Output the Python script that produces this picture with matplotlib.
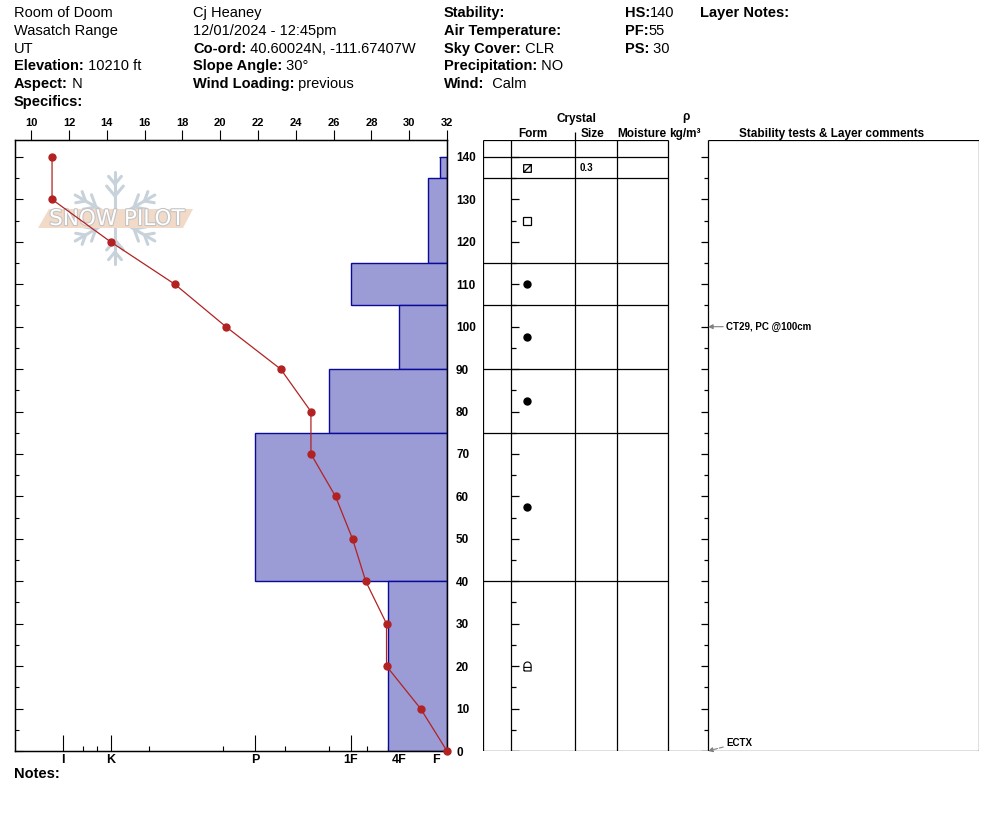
import matplotlib
matplotlib.use('Agg')
import matplotlib.pyplot as plt
import matplotlib.patheffects as pe
from matplotlib.path import Path
from matplotlib.patches import Polygon
from matplotlib.lines import Line2D
import numpy as np

plt.rcParams['font.family'] = ['Liberation Sans', 'DejaVu Sans']

W, H = 994, 840

# ---- header text ----
col1 = [("Room of Doom", None), ("Wasatch Range", None), ("UT", None),
        ("Elevation:", " 10210 ft"), ("Aspect:", " N"), ("Specifics:", "")]
col2 = [("Cj Heaney", None), ("12/01/2024 - 12:45pm", None),
        ("Co-ord:", " 40.60024N, -111.67407W"), ("Slope Angle:", " 30°"),
        ("Wind Loading:", " previous")]
col3 = [("Stability:", ""), ("Air Temperature:", ""), ("Sky Cover:", " CLR"),
        ("Precipitation:", " NO"), ("Wind:", "  Calm")]
col4 = [("HS:", "140"), ("PF:", "55"), ("PS:", " 30")]
col5 = [("Layer Notes:", "")]

# ---- temperature profile (deg) ----
temp_depth = [140, 130, 120, 110, 100, 90, 80, 70, 60, 50, 40, 30, 20, 10, 0]
temp_vals = [11.1, 11.1, 14.2, 17.6, 20.3, 23.2, 24.8, 24.8, 26.1, 27.0, 27.7,
             28.8, 28.8, 30.6, 32.0]

# ---- layers ----
layer_top = [140, 135, 115, 105, 90, 75, 40]
layer_bottom = [135, 115, 105, 90, 75, 40, 0]
layer_hardness = ['F-', 'F+', '1F', '4F', '1F+', 'P', '4F+']
layer_form = ['mixed', 'facet', 'round', 'round', 'round', 'round', 'hoar']
layer_size = ['0.3', '', '', '', '', '', '']

# hand hardness scale
hard_names = ['F-', 'F', 'F+', '4F-', '4F', '4F+', '1F-', '1F', '1F+',
              'P-', 'P', 'P+', 'K-', 'K', 'K+', 'I-', 'I']
hard_pos = [7, 11, 19, 35, 48, 59, 80, 96, 118, 162, 192, 224, 298, 336, 350, 364, 384]
hard_major = ['F', '4F', '1F', 'P', 'K', 'I']

# stability tests
test_depth = [100, 0]
test_text = ['CT29, PC @100cm', 'ECTX']

hard = dict(zip(hard_names, hard_pos))

fig = plt.figure(figsize=(W / 100, H / 100), dpi=100)
renderer = fig.canvas.get_renderer()


def fx(x):
    return x / W


def fy(y):
    return 1 - y / H


def header_col(x, rows, size=10.5):
    for i, (lab, val) in enumerate(rows):
        y = 17 + 17.8 * i
        if val is None:
            fig.text(fx(x), fy(y), lab, fontsize=size, va='baseline')
            continue
        t = fig.text(fx(x), fy(y), lab, fontsize=size, fontweight='bold', va='baseline')
        if val:
            bb = t.get_window_extent(renderer)
            fig.text(bb.x1 / W, fy(y), val, fontsize=size, va='baseline')


header_col(14, col1)
header_col(193, col2)
header_col(444, col3)
header_col(625, col4)
header_col(700, col5)
fig.text(fx(14), fy(778), "Notes:", fontsize=10.5, fontweight='bold', va='baseline')

# ---- main profile axes ----
ax = fig.add_axes([fx(15), fy(751), 432 / W, 611 / H])
ax.set_xlim(432, 0)
ax.set_ylim(0, 144)

# logo watermark: snowflake drawn with strokes, band and lettering
cx, cy, r = 115, 218, 46
flake = dict(color='#c8d2da', lw=2.2, solid_capstyle='round',
             transform=fig.transFigure, zorder=0.3)
for ang in np.deg2rad([90, 30, -30, -90, -150, 150]):
    ux, uy = np.cos(ang), np.sin(ang)
    ax.add_line(Line2D([fx(cx), fx(cx + r * ux)], [fy(cy), fy(cy - r * uy)], **flake))
    for dist, blen in [(22, 13), (34, 10)]:
        bx, by = cx + dist * ux, cy - dist * uy
        for side in (-1, 1):
            ba = ang + side * np.deg2rad(40)
            ax.add_line(Line2D([fx(bx), fx(bx + blen * np.cos(ba))],
                               [fy(by), fy(by - blen * np.sin(ba))], **flake))
band = Polygon([(fx(38), fy(228)), (fx(49), fy(209)), (fx(193), fy(209)), (fx(183), fy(228))],
               closed=True, transform=fig.transFigure, facecolor='#f2dac8',
               edgecolor='none', zorder=0.4)
ax.add_patch(band)
ax.text(fx(117), fy(219), 'SNOW PILOT', transform=fig.transFigure, fontsize=15.5,
        family='DejaVu Sans', color='white', ha='center', va='center', zorder=0.5,
        path_effects=[pe.withStroke(linewidth=1.6, foreground='#c4c4c4')])

mids = [(t + b) / 2 for t, b in zip(layer_top, layer_bottom)]
heights = [t - b for t, b in zip(layer_top, layer_bottom)]
widths = [hard[h] for h in layer_hardness]
ax.barh(mids, widths, height=heights, left=0, color='#9b9bd5',
        edgecolor='#0a0a9a', linewidth=1.0, zorder=2)

major_pos = [hard[n] for n in hard_major]
minor_pos = [p for n, p in zip(hard_names, hard_pos) if n not in hard_major]
ax.set_xticks(major_pos)
ax.set_xticklabels(hard_major)
ax.set_xticks(minor_pos, minor=True)
ax.xaxis.set_ticks_position('both')
ax.tick_params(axis='x', which='major', direction='in', length=11.5, width=0.8,
               labelsize=9, pad=2.5, top=True, bottom=True)
ax.tick_params(axis='x', which='minor', direction='in', length=3.6, width=0.8,
               top=True, bottom=True)
for lab in ax.get_xticklabels():
    lab.set_fontweight('bold')

ax.set_yticks(range(0, 141, 10))
ax.set_yticks(range(5, 141, 10), minor=True)
ax.yaxis.set_ticks_position('both')
ax.tick_params(axis='y', which='major', direction='in', length=5.5, width=0.8,
               labelleft=False, labelright=True, labelsize=8.5, pad=6.5)
ax.tick_params(axis='y', which='minor', direction='in', length=2.6, width=0.8)
for lab in ax.get_yticklabels():
    lab.set_fontweight('bold')
for s in ax.spines.values():
    s.set_linewidth(1.0)

# temperature axis on top
axt = ax.twiny()
axt.set_xlim(9.14, 32)
axt.set_xticks(range(10, 33, 2))
axt.tick_params(axis='x', direction='out', length=7, width=0.8, labelsize=8, pad=1.5)
for lab in axt.get_xticklabels():
    lab.set_fontweight('bold')
axt.plot(temp_vals, temp_depth, color='#b22222', lw=0.9, marker='o', ms=5,
         clip_on=False, zorder=5)

# ---- layer table ----
axr = fig.add_axes([fx(483), fy(751), 496 / W, 611 / H])
axr.set_xlim(0, 496)
axr.set_ylim(0, 144)
axr.axis('off')
x_form, x_size, x_moist, x_dens, x_stab, x_end = 28, 92, 134, 185, 225, 496
lw = 0.9
for xv in [0, x_form, x_size, x_moist, x_dens, x_stab, x_end]:
    axr.vlines(xv, 0, 144, color='black', lw=lw)
axr.hlines(144, 0, x_dens, color='black', lw=lw)
axr.hlines(144, x_stab, x_end, color='black', lw=lw)
axr.hlines(0, 0, x_end, color='black', lw=lw)
axr.hlines(layer_top, 0, x_dens, color='black', lw=lw)
for d in range(0, 141, 5):
    big = d % 10 == 0
    axr.hlines(d, x_form, x_form + (8 if big else 5), color='black', lw=lw)
    axr.hlines(d, x_stab - (7 if big else 4), x_stab, color='black', lw=lw)

# grain form symbols
arc = np.linspace(np.pi, 0, 12)
hoar_verts = ([(-0.8, -1), (-0.8, 0.2)] + [(0.8 * np.cos(a), 0.2 + 0.8 * np.sin(a)) for a in arc] +
              [(0.8, -1), (-0.8, -1), (-0.8, -0.2), (0.8, -0.2)])
hoar_codes = ([Path.MOVETO] + [Path.LINETO] * (len(hoar_verts) - 4) +
              [Path.LINETO, Path.MOVETO, Path.LINETO])
hoar_marker = Path(hoar_verts, hoar_codes)
mixed_marker = Path([(-1, -1), (1, -1), (1, 1), (-1, 1), (-1, -1), (-1, -1), (1, 1)],
                    [Path.MOVETO, Path.LINETO, Path.LINETO, Path.LINETO, Path.LINETO,
                     Path.MOVETO, Path.LINETO])
sym_x = 44
for m, form, size in zip(mids, layer_form, layer_size):
    if form == 'round':
        axr.plot(sym_x, m, 'o', color='black', ms=5)
    elif form == 'facet':
        axr.plot(sym_x, m, 's', mfc='none', mec='black', mew=0.9, ms=5.5)
    elif form == 'mixed':
        axr.plot(sym_x, m, marker=mixed_marker, mfc='none', mec='black', mew=0.9, ms=5.5)
    elif form == 'hoar':
        axr.plot(sym_x, m, marker=hoar_marker, mfc='none', mec='black', mew=0.8, ms=6.5)
    if size:
        axr.text(x_size + 5, m, size, fontsize=7, fontweight='bold', va='center')

# stability tests
for d, txt in zip(test_depth, test_text):
    if d > 0:
        axr.annotate(txt, xy=(x_stab, d), xytext=(x_stab + 18, d), fontsize=7,
                     fontweight='bold', va='center',
                     arrowprops=dict(arrowstyle='-|>', color='#808080', lw=0.8,
                                     mutation_scale=7, shrinkA=0, shrinkB=0))
    else:
        axr.annotate(txt, xy=(x_stab, d), xytext=(x_stab + 18, d + 1.9), fontsize=7,
                     fontweight='bold', va='center',
                     arrowprops=dict(arrowstyle='-|>', color='#808080', lw=0.8, ls='--',
                                     mutation_scale=7, shrinkA=0, shrinkB=0))

# table headers
hdr = dict(fontsize=8.5, fontweight='bold', ha='center', va='baseline')
fig.text(fx(576.5), fy(122), 'Crystal', **hdr)
fig.text(fx(532.5), fy(137), 'Form', **hdr)
fig.text(fx(592.5), fy(137), 'Size', **hdr)
fig.text(fx(641.5), fy(137), 'Moisture', **hdr)
fig.text(fx(685), fy(137), 'kg/m\u00b3', **hdr)
fig.text(fx(686), fy(117), '\u03c1', fontsize=8.5, fontweight='bold', ha='center', va='center')
fig.text(fx(832), fy(137), 'Stability tests & Layer comments', **hdr)
axr.vlines(x_size, 144, 144 + 8 / 4.243, color='black', lw=lw, clip_on=False)

fig.savefig('out.png', dpi=100)
